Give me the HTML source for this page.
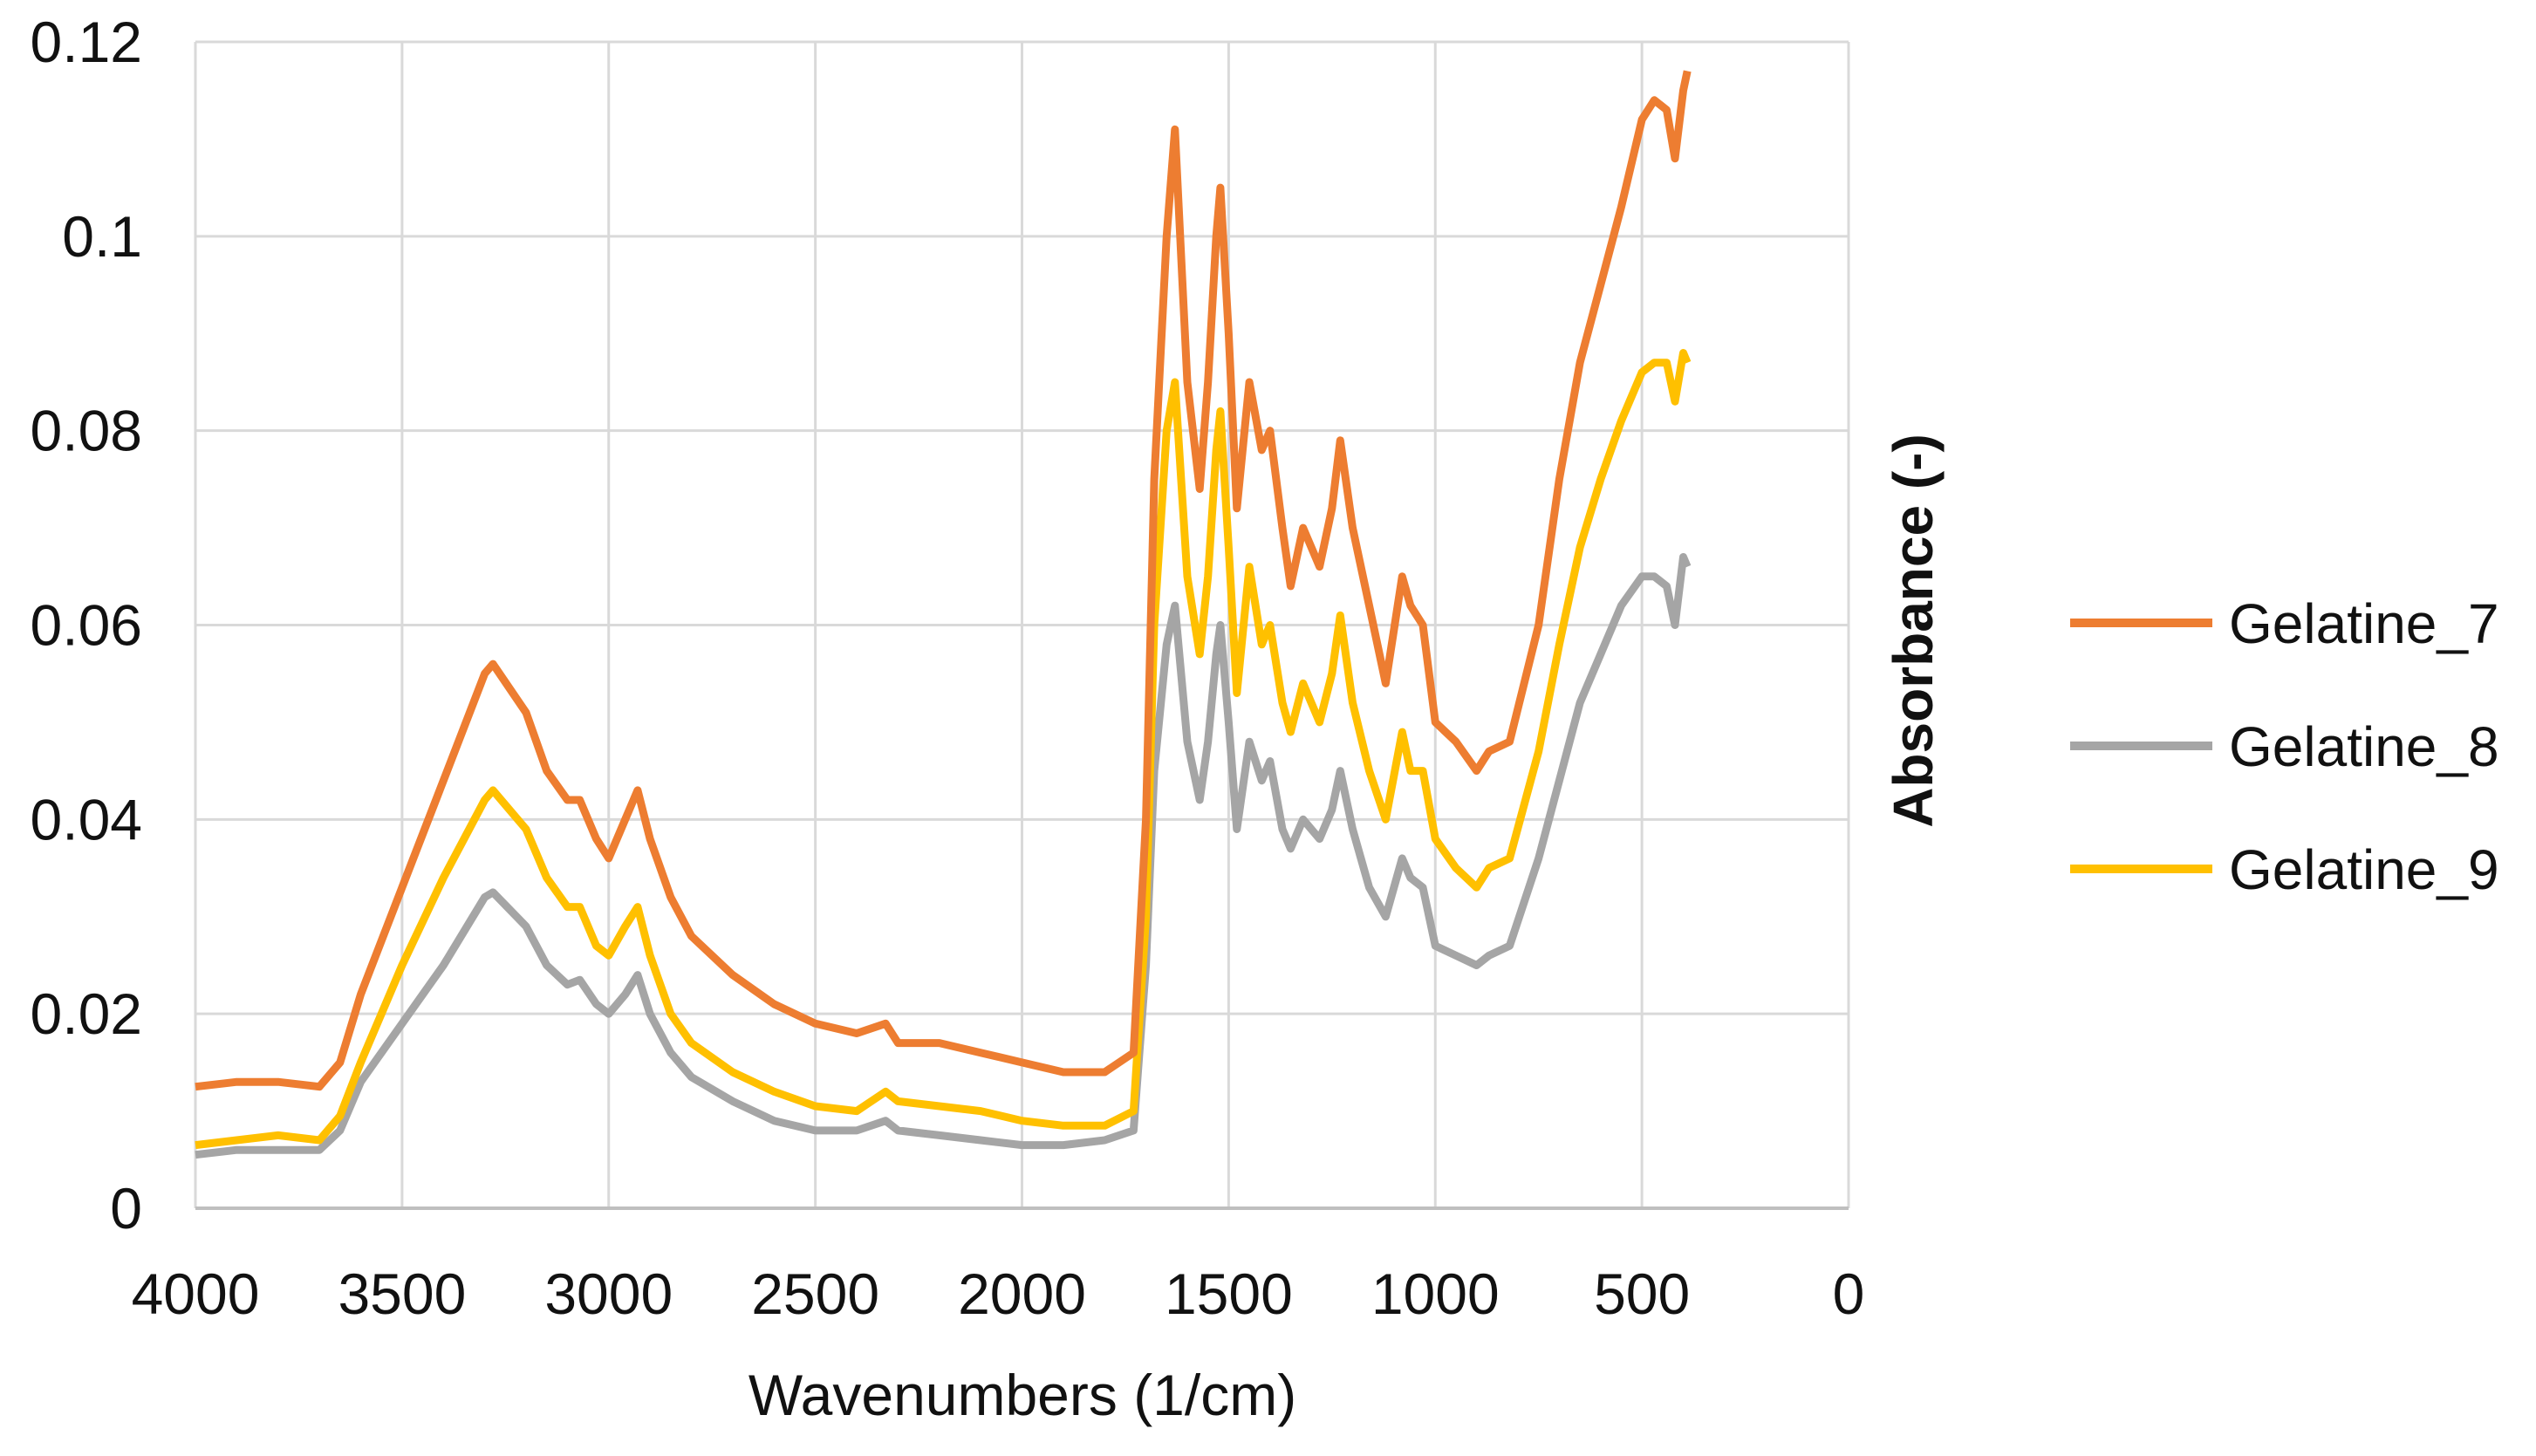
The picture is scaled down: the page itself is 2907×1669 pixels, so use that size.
<!DOCTYPE html>
<html><head><meta charset="utf-8"><style>
html,body{margin:0;padding:0;background:#fff;}
svg{display:block;font-family:"Liberation Sans",sans-serif;}
</style></head><body>
<svg id="chart" width="2907" height="1669" viewBox="0 0 2907 1669" xmlns="http://www.w3.org/2000/svg">
<g id="grid"></g>
<g id="series"></g>
<g id="yticks"></g>
<g id="xticks"></g>
<text x="1172" y="1622" font-size="66" text-anchor="middle" fill="#111">Wavenumbers (1/cm)</text>
<text x="0" y="0" font-size="64" font-weight="bold" text-anchor="middle" fill="#111" transform="translate(2215,723) rotate(-90)">Absorbance (-)</text>
<g id="legend"></g>
</svg>
<script>
const wavenumbers=[4000,3900,3800,3700,3650,3600,3500,3400,3300,3280,3200,3150,3100,3070,3030,3000,2960,2930,2900,2850,2800,2700,2600,2500,2400,2330,2300,2200,2100,2000,1900,1800,1730,1700,1680,1650,1630,1600,1570,1550,1530,1520,1500,1480,1450,1420,1400,1370,1350,1320,1280,1250,1230,1200,1160,1120,1080,1060,1030,1000,950,900,870,820,750,700,650,600,550,500,470,440,420,400,390];
const gelatine7=[0.0125,0.013,0.013,0.0125,0.015,0.022,0.033,0.044,0.055,0.056,0.051,0.045,0.042,0.042,0.038,0.036,0.040,0.043,0.038,0.032,0.028,0.024,0.021,0.019,0.018,0.019,0.017,0.017,0.016,0.015,0.014,0.014,0.016,0.04,0.075,0.1,0.111,0.085,0.074,0.085,0.1,0.105,0.09,0.072,0.085,0.078,0.080,0.07,0.064,0.07,0.066,0.072,0.079,0.07,0.062,0.054,0.065,0.062,0.06,0.05,0.048,0.045,0.047,0.048,0.06,0.075,0.087,0.095,0.103,0.112,0.114,0.113,0.108,0.115,0.117];
const gelatine8=[0.0055,0.006,0.006,0.006,0.008,0.013,0.019,0.025,0.032,0.0325,0.029,0.025,0.023,0.0235,0.021,0.020,0.022,0.024,0.020,0.016,0.0135,0.011,0.009,0.008,0.008,0.009,0.008,0.0075,0.007,0.0065,0.0065,0.007,0.008,0.025,0.045,0.058,0.062,0.048,0.042,0.048,0.057,0.060,0.05,0.039,0.048,0.044,0.046,0.039,0.037,0.040,0.038,0.041,0.045,0.039,0.033,0.030,0.036,0.034,0.033,0.027,0.026,0.025,0.026,0.027,0.036,0.044,0.052,0.057,0.062,0.065,0.065,0.064,0.060,0.067,0.066];
const gelatine9=[0.0065,0.007,0.0075,0.007,0.0095,0.015,0.025,0.034,0.042,0.043,0.039,0.034,0.031,0.031,0.027,0.026,0.029,0.031,0.026,0.020,0.017,0.014,0.012,0.0105,0.010,0.012,0.011,0.0105,0.010,0.009,0.0085,0.0085,0.010,0.03,0.06,0.08,0.085,0.065,0.057,0.065,0.078,0.082,0.068,0.053,0.066,0.058,0.060,0.052,0.049,0.054,0.050,0.055,0.061,0.052,0.045,0.040,0.049,0.045,0.045,0.038,0.035,0.033,0.035,0.036,0.047,0.058,0.068,0.075,0.081,0.086,0.087,0.087,0.083,0.088,0.087];
const seriesNames=["Gelatine_7","Gelatine_8","Gelatine_9"];
const yTickLabels=["0","0.02","0.04","0.06","0.08","0.1","0.12"];
const yTickValues=[0,0.02,0.04,0.06,0.08,0.1,0.12];
const xTickValues=[4000,3500,3000,2500,2000,1500,1000,500,0];

const NS="http://www.w3.org/2000/svg";
const L=224,R=2119,T=48,B=1385;
function xs(w){return L+(4000-w)/4000*(R-L);}
function ys(v){return B-v/0.12*(B-T);}
function mk(tag,attrs,parent){const e=document.createElementNS(NS,tag);for(const k in attrs)e.setAttribute(k,attrs[k]);parent.appendChild(e);return e;}
const grid=document.getElementById('grid');
yTickValues.forEach((v,i)=>{
  const l=mk('line',{x1:L,x2:R,y1:ys(v),y2:ys(v),stroke:'#d9d9d9','stroke-width':3},grid);
  
  
  const t=mk('text',{x:163,y:ys(v)+23,'font-size':66,'text-anchor':'end',fill:'#111'},document.getElementById('yticks'));
  t.textContent=yTickLabels[i];
  
  
});
xTickValues.forEach(w=>{
  const l=mk('line',{x1:xs(w),x2:xs(w),y1:T,y2:B,stroke:'#d9d9d9','stroke-width':3},grid);
  
  
  const t=mk('text',{x:xs(w),y:1506,'font-size':66,'text-anchor':'middle',fill:'#111'},document.getElementById('xticks'));
  t.textContent=String(w);
  
  
});
const ax=mk('line',{x1:L,x2:R,y1:B,y2:B,stroke:'#bfbfbf','stroke-width':4},grid);


const data=[gelatine8,gelatine9,gelatine7];
const colors=['#a5a5a5','#ffc000','#ed7d31'];
const names=['line-gelatine-8','line-gelatine-9','line-gelatine-7'];
data.forEach((arr,i)=>{
  const d=arr.map((v,j)=>(j?'L':'M')+xs(wavenumbers[j]).toFixed(1)+','+ys(v).toFixed(1)).join(' ');
  const p=mk('path',{d:d,fill:'none',stroke:colors[i],'stroke-width':9,'stroke-linejoin':'round'},document.getElementById('series'));
  
  
});
const lg=document.getElementById('legend');
const lcol=['#ed7d31','#a5a5a5','#ffc000'];
const ly=[714,855,996];
seriesNames.forEach((n,i)=>{
  const l=mk('line',{x1:2373,x2:2536,y1:ly[i],y2:ly[i],stroke:lcol[i],'stroke-width':10},lg);
  
  
  const t=mk('text',{x:2555,y:ly[i]+23,'font-size':64,fill:'#111'},lg);
  t.textContent=n;
  
  
});
</script>
</body></html>
